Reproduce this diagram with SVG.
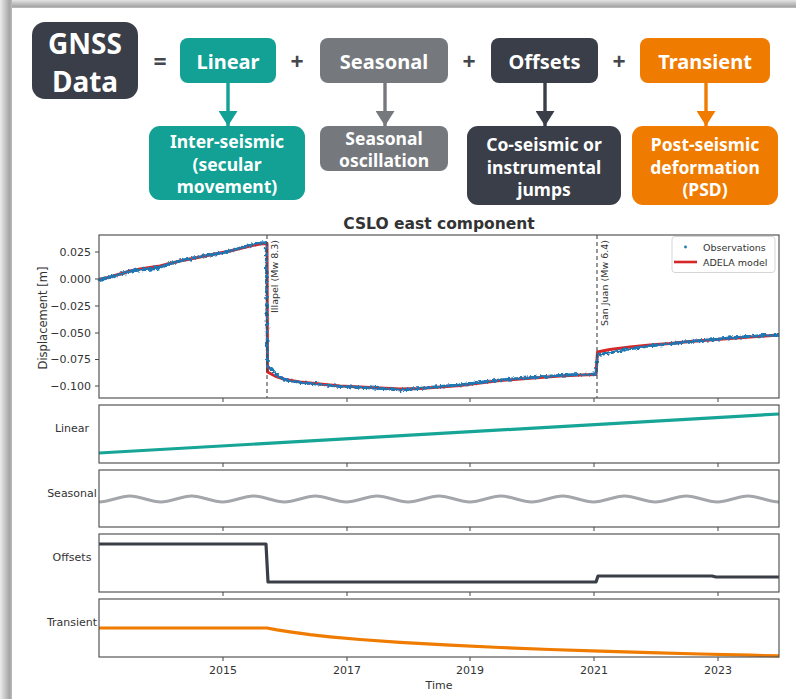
<svg xmlns="http://www.w3.org/2000/svg" width="796" height="699" viewBox="0 0 796 699">
  <defs>
    <linearGradient id="shadeTop" x1="0" y1="0" x2="0" y2="1">
      <stop offset="0" stop-color="#e4e4e4"/>
      <stop offset="0.8" stop-color="#a6a6a6"/>
      <stop offset="1" stop-color="#bdbdbd"/>
    </linearGradient>
    <linearGradient id="shadeLeft" x1="0" y1="0" x2="1" y2="0">
      <stop offset="0" stop-color="#ececec"/>
      <stop offset="0.8" stop-color="#a4a4a4"/>
      <stop offset="1" stop-color="#bcbcbc"/>
    </linearGradient>
    <filter id="scatter" x="-5%" y="-20%" width="110%" height="140%">
      <feTurbulence type="fractalNoise" baseFrequency="0.4" numOctaves="2" seed="7" result="n"/>
      <feDisplacementMap in="SourceGraphic" in2="n" scale="5" xChannelSelector="R" yChannelSelector="G"/>
    </filter>
    <marker id="arrowTeal" viewBox="0 0 15 19" refX="15" refY="9.5" markerWidth="15" markerHeight="19" orient="auto" markerUnits="userSpaceOnUse">
      <path d="M0,0 L15,9.5 L0,19 z" fill="#12a194"/>
    </marker>
    <marker id="arrowGray" viewBox="0 0 15 19" refX="15" refY="9.5" markerWidth="15" markerHeight="19" orient="auto" markerUnits="userSpaceOnUse">
      <path d="M0,0 L15,9.5 L0,19 z" fill="#75787d"/>
    </marker>
    <marker id="arrowDark" viewBox="0 0 15 19" refX="15" refY="9.5" markerWidth="15" markerHeight="19" orient="auto" markerUnits="userSpaceOnUse">
      <path d="M0,0 L15,9.5 L0,19 z" fill="#393e48"/>
    </marker>
    <marker id="arrowOrange" viewBox="0 0 15 19" refX="15" refY="9.5" markerWidth="15" markerHeight="19" orient="auto" markerUnits="userSpaceOnUse">
      <path d="M0,0 L15,9.5 L0,19 z" fill="#ef7b00"/>
    </marker>
  </defs>
  <style>
    .box-text { font-family: "Noto Sans", "Open Sans", "DejaVu Sans", sans-serif; font-weight: 700; fill: #ffffff; text-anchor: middle; dominant-baseline: central; }
    .op { font-family: "Noto Sans", "DejaVu Sans", sans-serif; font-weight: 700; fill: #44474c; font-size: 23px; text-anchor: middle; dominant-baseline: central; }
    .teal { fill: #12a194; }
    .gray { fill: #75787d; }
    .dark { fill: #393e48; }
    .orange { fill: #ef7b00; }
    .axes { fill: none; stroke: #555555; stroke-width: 1.2; }
    .tick { stroke: #444444; stroke-width: 1; }
    .plt { font-family: "DejaVu Sans", sans-serif; fill: #333333; }
    .ylab { font-size: 11px; text-anchor: end; dominant-baseline: central; }
    .xlab { font-size: 11px; text-anchor: middle; }
    .plabel { font-size: 11px; text-anchor: middle; dominant-baseline: central; }
    .event { stroke: #444444; stroke-width: 1.1; stroke-dasharray: 4 3; }
    .evtext { font-size: 9.5px; }
  </style>

  <!-- page card with soft shadow -->
  <rect x="0" y="0" width="796" height="699" fill="#ffffff"/>
  <rect x="0" y="0" width="796" height="8" fill="url(#shadeTop)"/>
  <rect x="0" y="0" width="12" height="699" fill="url(#shadeLeft)"/>
  <rect x="12" y="8" width="784" height="691" fill="#ffffff"/>

  <!-- decomposition equation -->
  <g id="gnss-data">
    <rect x="32" y="22" width="106" height="77" rx="13" class="dark"/>
    <text x="85" y="43" class="box-text" font-size="28">GNSS</text>
    <text x="85" y="81" class="box-text" font-size="28">Data</text>
  </g>
  <text x="160" y="61" class="op">=</text>
  <text x="297" y="61" class="op">+</text>
  <text x="469" y="61" class="op">+</text>
  <text x="619" y="61" class="op">+</text>

  <g id="linear">
    <rect x="180" y="38" width="96" height="45" rx="8" class="teal"/>
    <text x="228" y="61" class="box-text" font-size="20">Linear</text>
  </g>
  <g id="seasonal">
    <rect x="320" y="38" width="128" height="45" rx="8" class="gray"/>
    <text x="384" y="61" class="box-text" font-size="20">Seasonal</text>
  </g>
  <g id="offsets">
    <rect x="491" y="38" width="107" height="45" rx="8" class="dark"/>
    <text x="544.5" y="61" class="box-text" font-size="20">Offsets</text>
  </g>
  <g id="transient">
    <rect x="640" y="38" width="130" height="45" rx="8" class="orange"/>
    <text x="705" y="61" class="box-text" font-size="20">Transient</text>
  </g>

  <g id="inter-seismic">
    <rect x="149" y="126" width="156" height="74" rx="11" class="teal"/>
    <text x="227" y="141" class="box-text" font-size="17.5">Inter-seismic</text>
    <text x="227" y="163.5" class="box-text" font-size="17.5">(secular</text>
    <text x="227" y="186" class="box-text" font-size="17.5">movement)</text>
  </g>
  <g id="seasonal-oscillation">
    <rect x="320" y="126" width="128" height="45" rx="8" class="gray"/>
    <text x="384" y="138" class="box-text" font-size="17.5">Seasonal</text>
    <text x="384" y="160" class="box-text" font-size="17.5">oscillation</text>
  </g>
  <g id="jumps">
    <rect x="467" y="126" width="154" height="79" rx="11" class="dark"/>
    <text x="544" y="144" class="box-text" font-size="17.5">Co-seismic or</text>
    <text x="544" y="166.5" class="box-text" font-size="17.5">instrumental</text>
    <text x="544" y="189" class="box-text" font-size="17.5">jumps</text>
  </g>
  <g id="psd">
    <rect x="632" y="126" width="146" height="79" rx="11" class="orange"/>
    <text x="705" y="144" class="box-text" font-size="17.5">Post-seismic</text>
    <text x="705" y="166.5" class="box-text" font-size="17.5">deformation</text>
    <text x="705" y="189" class="box-text" font-size="17.5">(PSD)</text>
  </g>

  <g id="connectors" fill="none" stroke-width="3.4">
    <line x1="228" y1="83" x2="228" y2="126" stroke="#12a194" marker-end="url(#arrowTeal)"/>
    <line x1="385" y1="83" x2="385" y2="126" stroke="#75787d" marker-end="url(#arrowGray)"/>
    <line x1="545" y1="83" x2="545" y2="126" stroke="#393e48" marker-end="url(#arrowDark)"/>
    <line x1="706" y1="83" x2="706" y2="126" stroke="#ef7b00" marker-end="url(#arrowOrange)"/>
  </g>

  <!-- main time-series panel -->
  <g id="main-plot">
    <text x="439" y="229" class="plt" font-size="15.5" font-weight="700" text-anchor="middle" fill="#111111">CSLO east component</text>
    <text transform="translate(43,318) rotate(-90)" class="plt" font-size="11.5" text-anchor="middle" dominant-baseline="central">Displacement [m]</text>
    <g class="plt ylab">
      <text x="91" y="252">0.025</text>
      <text x="91" y="279">0.000</text>
      <text x="91" y="306">−0.025</text>
      <text x="91" y="333">−0.050</text>
      <text x="91" y="359.5">−0.075</text>
      <text x="91" y="386">−0.100</text>
    </g>
    <g class="tick">
      <line x1="95" y1="252" x2="99" y2="252"/>
      <line x1="95" y1="279" x2="99" y2="279"/>
      <line x1="95" y1="306" x2="99" y2="306"/>
      <line x1="95" y1="333" x2="99" y2="333"/>
      <line x1="95" y1="359.5" x2="99" y2="359.5"/>
      <line x1="95" y1="386" x2="99" y2="386"/>
      <line x1="223" y1="398" x2="223" y2="402"/>
      <line x1="347" y1="398" x2="347" y2="402"/>
      <line x1="470" y1="398" x2="470" y2="402"/>
      <line x1="594" y1="398" x2="594" y2="402"/>
      <line x1="718" y1="398" x2="718" y2="402"/>
    </g>
    <!-- model fit -->
    <path fill="none" stroke="#d62728" stroke-width="3" stroke-linejoin="round" d="M99,279.5 L110,277 L120,274 L130,271 L140,269 L150,267.5 L160,266 L170,263.5 L180,261 L190,259 L200,257 L210,255 L220,253 L230,251 L240,248.5 L250,246 L260,244 L267,243.5 L267.5,372 L275,376 L285,379.5 L300,382 L320,384 L340,386 L360,387 L380,388 L400,389 L420,388.5 L440,387 L460,385.5 L480,383 L500,380.5 L520,379 L540,377.5 L560,376 L580,375 L596,374.5 L597.5,352 L610,349.5 L630,347 L650,345 L670,343.5 L690,341.5 L710,340 L730,338.5 L750,337 L765,336 L779,335"/>
    <!-- observations -->
    <g filter="url(#scatter)">
      <path fill="none" stroke="#1f77b4" stroke-width="2.8" stroke-linecap="round" stroke-dasharray="0.1 1.8" d="M99,280 L110,277.5 L120,274.5 L130,271.5 L140,270 L150,269.5 L160,268 L170,264 L180,261 L190,259 L200,256.5 L210,255 L220,253.5 L230,251 L240,248 L250,245.5 L258,243 L266,243 L267.5,366 L272,370 L280,377.5 L290,381 L300,382.5 L320,384.5 L340,386.5 L360,387.5 L380,388.5 L400,390 L420,388.5 L440,386.5 L460,385 L480,382.5 L500,380 L520,378.5 L540,377 L560,375.5 L580,374.5 L596,374 L597.5,355 L610,353 L630,349 L650,346 L670,344 L690,341.5 L710,340 L730,338 L750,336.5 L765,335.5 L779,335.5"/>
      <path fill="none" stroke="#1f77b4" stroke-width="2" stroke-linecap="round" stroke-dasharray="0.1 1.5" d="M99,279 L110,276.5 L120,273.5 L130,270.5 L140,269 L150,268 L160,266.5 L170,263 L180,260.5 L190,258.5 L200,256 L210,254.5 L220,252.5 L230,250.5 L240,247.5 L250,245 L258,242.5 L266,242.5 L267.5,367 L272,369.5 L280,377 L290,380.5 L300,382 L320,384 L340,386 L360,387 L380,388 L400,389.5 L420,388 L440,386 L460,384.5 L480,382 L500,379.5 L520,378 L540,376.5 L560,375 L580,374 L596,373.5 L597.5,354.5 L610,352.5 L630,348.5 L650,345.5 L670,343.5 L690,341 L710,339.5 L730,337.5 L750,336 L765,335 L779,335"/>
    </g>
    <line x1="267" y1="235" x2="267" y2="398" class="event"/>
    <line x1="597" y1="235" x2="597" y2="398" class="event"/>
    <text transform="translate(277.5,240) rotate(-90)" class="plt evtext" text-anchor="end">Illapel (Mw 8.3)</text>
    <text transform="translate(608,240) rotate(-90)" class="plt evtext" text-anchor="end">San Juan (Mw 6.4)</text>
    <rect x="99" y="235" width="680" height="163" class="axes"/>
    <g id="legend">
      <rect x="672" y="236.5" width="103" height="36" rx="3" fill="#ffffff" fill-opacity="0.85" stroke="#d0d0d0" stroke-width="0.9"/>
      <circle cx="685.5" cy="247" r="1.4" fill="#1f77b4"/>
      <text x="703" y="247.5" class="plt" font-size="9.5" dominant-baseline="central">Observations</text>
      <line x1="674" y1="262" x2="697" y2="262" stroke="#d62728" stroke-width="2.6"/>
      <text x="703" y="262" class="plt" font-size="9.5" dominant-baseline="central">ADELA model</text>
    </g>
  </g>

  <!-- component panels -->
  <g id="linear-panel">
    <text x="72" y="428" class="plt plabel">Linear</text>
    <line x1="99" y1="453" x2="779" y2="414" stroke="#16a596" stroke-width="3.2"/>
    <rect x="99" y="405" width="680" height="58" class="axes"/>
    <g class="tick">
      <line x1="223" y1="463" x2="223" y2="467"/>
      <line x1="347" y1="463" x2="347" y2="467"/>
      <line x1="470" y1="463" x2="470" y2="467"/>
      <line x1="594" y1="463" x2="594" y2="467"/>
      <line x1="718" y1="463" x2="718" y2="467"/>
    </g>
  </g>

  <g id="seasonal-panel">
    <text x="72" y="493" class="plt plabel">Seasonal</text>
    <path fill="none" stroke="#a3a6aa" stroke-width="3" d="M99,502 C109.3,502 119.6,496 129.91,496 S150.52,502 160.82,502 S181.43,496 191.73,496 S212.34,502 222.64,502 S243.25,496 253.55,496 S274.15,502 284.45,502 S305.06,496 315.36,496 S335.97,502 346.27,502 S366.88,496 377.18,496 S397.79,502 408.09,502 S428.7,496 439,496 S459.61,502 469.91,502 S490.52,496 500.82,496 S521.43,502 531.73,502 S552.34,496 562.64,496 S583.25,502 593.55,502 S614.15,496 624.45,496 S645.06,502 655.36,502 S675.97,496 686.27,496 S706.88,502 717.18,502 S737.79,496 748.09,496 S768.7,502 779,502"/>
    <rect x="99" y="470" width="680" height="57" class="axes"/>
    <g class="tick">
      <line x1="223" y1="527" x2="223" y2="531"/>
      <line x1="347" y1="527" x2="347" y2="531"/>
      <line x1="470" y1="527" x2="470" y2="531"/>
      <line x1="594" y1="527" x2="594" y2="531"/>
      <line x1="718" y1="527" x2="718" y2="531"/>
    </g>
  </g>

  <g id="offsets-panel">
    <text x="72" y="557" class="plt plabel">Offsets</text>
    <path fill="none" stroke="#3a3f47" stroke-width="3.2" stroke-linejoin="round" d="M99,544 L266,544 L268,582 L596,582 L598,576 L712,576 L716,577 L779,577"/>
    <rect x="99" y="534" width="680" height="58" class="axes"/>
    <g class="tick">
      <line x1="223" y1="592" x2="223" y2="596"/>
      <line x1="347" y1="592" x2="347" y2="596"/>
      <line x1="470" y1="592" x2="470" y2="596"/>
      <line x1="594" y1="592" x2="594" y2="596"/>
      <line x1="718" y1="592" x2="718" y2="596"/>
    </g>
  </g>

  <g id="transient-panel">
    <text x="72" y="622" class="plt plabel">Transient</text>
    <path fill="none" stroke="#ef7b00" stroke-width="3.2" stroke-linejoin="round" d="M99,628 L267,628 L277,629.9 L290,631.9 L310,634.6 L330,636.8 L360,639.5 L400,642.3 L450,645.2 L500,647.5 L550,649.5 L600,651.2 L650,652.7 L700,654 L750,655.2 L779,655.9"/>
    <rect x="99" y="599" width="680" height="58" class="axes"/>
    <g class="tick">
      <line x1="223" y1="657" x2="223" y2="661"/>
      <line x1="347" y1="657" x2="347" y2="661"/>
      <line x1="470" y1="657" x2="470" y2="661"/>
      <line x1="594" y1="657" x2="594" y2="661"/>
      <line x1="718" y1="657" x2="718" y2="661"/>
    </g>
    <g class="plt xlab">
      <text x="223" y="674">2015</text>
      <text x="347" y="674">2017</text>
      <text x="470" y="674">2019</text>
      <text x="594" y="674">2021</text>
      <text x="718" y="674">2023</text>
    </g>
    <text x="439" y="689" class="plt xlab">Time</text>
  </g>
</svg>
